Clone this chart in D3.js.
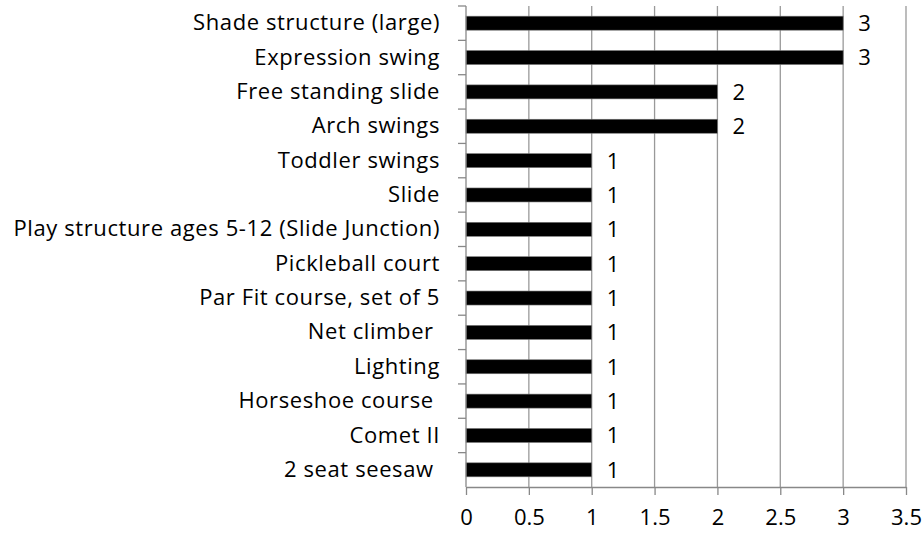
<!DOCTYPE html>
<html>
<meta charset="utf-8">
<head>
    <title>Amenities</title>
    <style>
    body {
        margin: 0;
        background: #fff;
        font-family: "Open Sans", sans-serif;
    }
    </style>
<script src="https://d3js.org/d3.v7.min.js"></script>
</head>
<body>
<svg></svg>
<script>

var width = 923, height = 533;

// categories, top to bottom
var items = ["Shade structure (large)", "Expression swing", "Free standing slide", "Arch swings",
    "Toddler swings", "Slide", "Play structure ages 5-12 (Slide Junction)", "Pickleball court",
    "Par Fit course, set of 5", "Net climber ", "Lighting", "Horseshoe course ", "Comet II", "2 seat seesaw "];
var counts = [3, 3, 2, 2, 1, 1, 1, 1, 1, 1, 1, 1, 1, 1];
var ticks = [0, 0.5, 1, 1.5, 2, 2.5, 3, 3.5];

var margin = {top: 6, right: 17, bottom: 46, left: 466};
var fontFam = "'Open Sans', sans-serif", fontSize = 22;

var svg = d3.select("svg")
    .attr("width", width)
    .attr("height", height);

var x = d3.scaleLinear()
    .domain([0, 3.5])
    .range([margin.left, width - margin.right]);

var y = d3.scaleBand()
    .domain(items)
    .range([margin.top, height - margin.bottom]);

var barH = 14;

// vertical gridlines
svg.append("g")
    .selectAll("line")
    .data(ticks.slice(1))
    .enter().append("line")
    .attr("x1", d => x(d)).attr("x2", d => x(d))
    .attr("y1", margin.top).attr("y2", height - margin.bottom)
    .attr("stroke", "#999")
    .attr("stroke-width", 1.3);

// bars
svg.append("g")
    .selectAll("rect")
    .data(counts)
    .enter().append("rect")
    .attr("x", x(0))
    .attr("y", (d, i) => y(items[i]) + y.bandwidth() / 2 - barH / 2)
    .attr("width", d => x(d) - x(0))
    .attr("height", barH)
    .attr("fill", "#000")
    .attr("stroke", "#777")
    .attr("stroke-width", 0.6);

// value labels
svg.append("g")
    .selectAll("text")
    .data(counts)
    .enter().append("text")
    .attr("x", d => x(d) + 15)
    .attr("y", (d, i) => y(items[i]) + y.bandwidth() / 2)
    .attr("dy", "0.36em")
    .attr("font-size", fontSize)
    .attr("font-family", fontFam)
    .attr("fill", "#000")
    .text(d => d);

// bottom axis
var xAxis = svg.append("g")
    .attr("transform", "translate(0," + (height - margin.bottom) + ")")
    .call(d3.axisBottom(x).tickValues(ticks).tickSize(8).tickPadding(14).tickFormat(d3.format("")).tickSizeOuter(0));
xAxis.select(".domain").attr("stroke", "#888").attr("stroke-width", 1.3);
xAxis.selectAll(".tick line").attr("stroke", "#888").attr("stroke-width", 1.3);
xAxis.selectAll("text").attr("font-size", fontSize).attr("font-family", fontFam).attr("fill", "#000");

// left axis (keep trailing spaces like the original labels)
var yAxis = svg.append("g")
    .attr("transform", "translate(" + margin.left + ",0)")
    .call(d3.axisLeft(y).tickSize(0).tickPadding(26));
yAxis.select(".domain").remove();
yAxis.selectAll("text")
    .attr("font-size", fontSize)
    .attr("font-family", fontFam)
    .attr("letter-spacing", 0.6)
    .style("white-space", "pre")
    .attr("fill", "#000");

// category tick marks between bands
svg.append("line")
    .attr("x1", margin.left).attr("x2", margin.left)
    .attr("y1", margin.top).attr("y2", height - margin.bottom)
    .attr("stroke", "#888").attr("stroke-width", 1.3);
svg.append("g")
    .selectAll("line")
    .data(items)
    .enter().append("line")
    .attr("x1", margin.left - 8).attr("x2", margin.left)
    .attr("y1", d => y(d)).attr("y2", d => y(d))
    .attr("stroke", "#888").attr("stroke-width", 1.3);

</script>
</body>
</html>
